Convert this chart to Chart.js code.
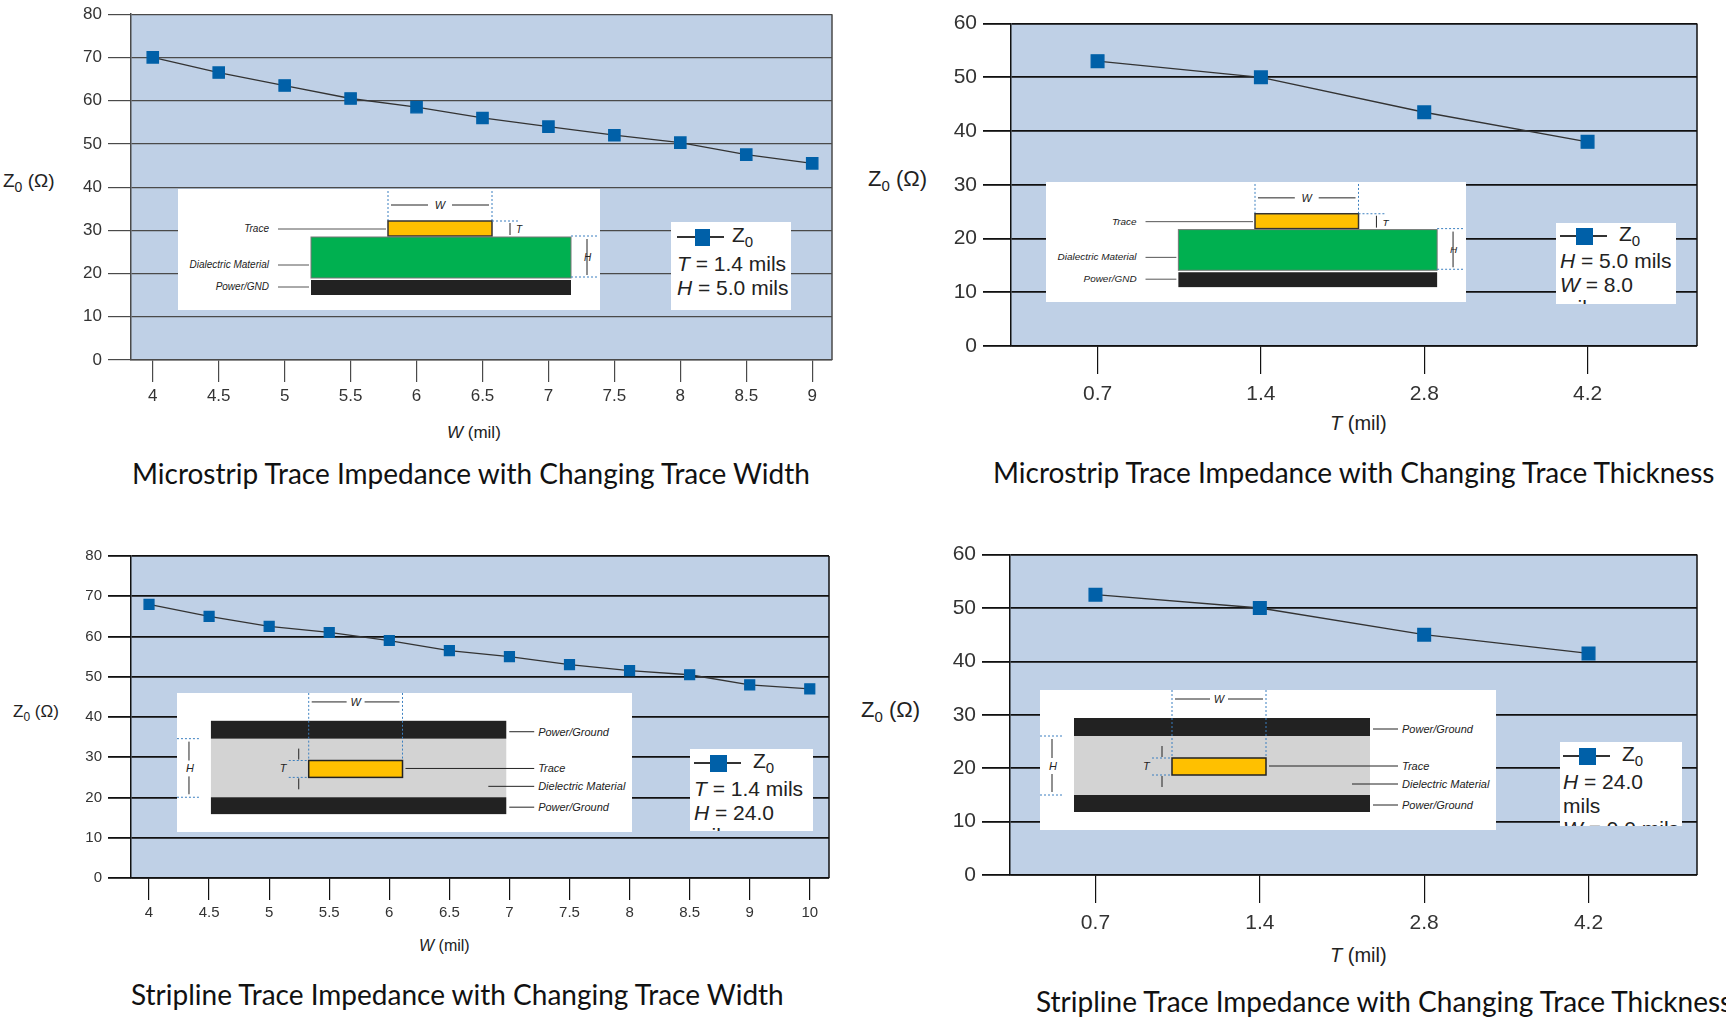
<!DOCTYPE html>
<html><head><meta charset="utf-8">
<script src="https://cdn.jsdelivr.net/npm/chart.js@4.4.1/dist/chart.umd.min.js"></script>
<style>
body{margin:0;background:#fff;width:1726px;height:1033px;position:relative;overflow:hidden;font-family:'Liberation Sans Narrow','Liberation Sans',sans-serif;}
.box{position:absolute}
.t{position:absolute;white-space:nowrap;color:#222}
.title{font-family:Lato,sans-serif;font-size:28px;color:#111}
.leg{position:absolute;background:#fff;color:#222;line-height:1.12}
svg.ins{position:absolute;font-family:'Liberation Sans Narrow','Liberation Sans',sans-serif}
</style></head><body>
<svg class="ins" id="ms" viewBox="0 0 422 121" preserveAspectRatio="none" width="422" height="121" style="left:178px;top:189px">
<rect x="0" y="0" width="422" height="121" fill="#fff"/>
<line x1="210" y1="2" x2="210" y2="32" stroke="#3a7fc0" stroke-dasharray="2,2"/>
<line x1="314" y1="2" x2="314" y2="32" stroke="#3a7fc0" stroke-dasharray="2,2"/>
<line x1="213" y1="16" x2="250" y2="16" stroke="#222"/><line x1="274" y1="16" x2="311" y2="16" stroke="#222"/>
<text x="262" y="20" font-size="11" font-style="italic" text-anchor="middle" fill="#222">W</text>
<rect x="210" y="32" width="104" height="15" fill="#ffc000" stroke="#333" stroke-width="1.5"/>
<rect x="133" y="48" width="260" height="41" fill="#00b050" stroke="#777"/>
<rect x="133" y="91" width="260" height="15" fill="#222"/>
<line x1="314" y1="32" x2="340" y2="32" stroke="#3a7fc0" stroke-dasharray="2,2"/>
<line x1="332" y1="34" x2="332" y2="46" stroke="#222"/><text x="338" y="44" font-size="10" font-style="italic" fill="#222">T</text>
<line x1="393" y1="47" x2="420" y2="47" stroke="#3a7fc0" stroke-dasharray="2,2"/><line x1="393" y1="88" x2="420" y2="88" stroke="#3a7fc0" stroke-dasharray="2,2"/>
<line x1="409" y1="50" x2="409" y2="86" stroke="#222"/><text x="406" y="72" font-size="10" font-style="italic" fill="#222">H</text>
<text x="91" y="43" font-size="10" font-style="italic" text-anchor="end" fill="#222">Trace</text><line x1="100" y1="40" x2="208" y2="40" stroke="#555"/>
<text x="91" y="79" font-size="10" font-style="italic" text-anchor="end" fill="#222">Dialectric Material</text><line x1="100" y1="76" x2="131" y2="76" stroke="#555"/>
<text x="91" y="101" font-size="10" font-style="italic" text-anchor="end" fill="#222">Power/GND</text><line x1="100" y1="98" x2="131" y2="98" stroke="#555"/>
</svg>
<svg class="ins" id="sl" viewBox="0 0 456 140" preserveAspectRatio="none" width="455" height="139" style="left:177px;top:693px">
<rect x="0" y="0" width="456" height="140" fill="#fff"/>
<rect x="34" y="46" width="296" height="59" fill="#d3d3d3"/>
<rect x="34" y="28" width="296" height="18" fill="#222"/>
<rect x="34" y="105" width="296" height="17" fill="#222"/>
<line x1="132" y1="0" x2="132" y2="68" stroke="#3a7fc0" stroke-dasharray="2,2"/><line x1="226" y1="0" x2="226" y2="68" stroke="#3a7fc0" stroke-dasharray="2,2"/>
<line x1="135" y1="9" x2="170" y2="9" stroke="#222"/><line x1="188" y1="9" x2="223" y2="9" stroke="#222"/>
<text x="179" y="13" font-size="11" font-style="italic" text-anchor="middle" fill="#222">W</text>
<rect x="132" y="68" width="94" height="17" fill="#ffc000" stroke="#222" stroke-width="1.5"/>
<line x1="112" y1="68" x2="132" y2="68" stroke="#3a7fc0" stroke-dasharray="2,2"/><line x1="112" y1="85" x2="132" y2="85" stroke="#3a7fc0" stroke-dasharray="2,2"/>
<line x1="122" y1="56" x2="122" y2="67" stroke="#222"/><line x1="122" y1="86" x2="122" y2="97" stroke="#222"/>
<text x="103" y="80" font-size="11" font-style="italic" fill="#222">T</text>
<line x1="0" y1="46" x2="24" y2="46" stroke="#3a7fc0" stroke-dasharray="2,2"/><line x1="0" y1="105" x2="24" y2="105" stroke="#3a7fc0" stroke-dasharray="2,2"/>
<line x1="12" y1="49" x2="12" y2="68" stroke="#222"/><line x1="12" y1="84" x2="12" y2="102" stroke="#222"/>
<text x="9" y="80" font-size="11" font-style="italic" fill="#222">H</text>
<line x1="333" y1="39" x2="358" y2="39" stroke="#222"/><text x="362" y="43" font-size="11" font-style="italic" fill="#222">Power/Ground</text>
<line x1="229" y1="76" x2="358" y2="76" stroke="#222"/><text x="362" y="80" font-size="11" font-style="italic" fill="#222">Trace</text>
<line x1="312" y1="94" x2="358" y2="94" stroke="#222"/><text x="362" y="98" font-size="11" font-style="italic" fill="#222">Dielectric Material</text>
<line x1="333" y1="115" x2="358" y2="115" stroke="#222"/><text x="362" y="119" font-size="11" font-style="italic" fill="#222">Power/Ground</text>
</svg>
<script>
// ---- data ----
const c1Labels = ['4','4.5','5','5.5','6','6.5','7','7.5','8','8.5','9'];
const c1Values = [70,66.5,63.5,60.5,58.5,56,54,52,50.3,47.5,45.5];
const c2Labels = ['0.7','1.4','2.8','4.2'];
const c2Values = [53,50,43.5,38];
const c3Labels = ['4','4.5','5','5.5','6','6.5','7','7.5','8','8.5','9','10'];
const c3Values = [68,65,62.5,61,59,56.5,55,53,51.5,50.5,48,47];
const c4Labels = ['0.7','1.4','2.8','4.2'];
const c4Values = [52.5,50,45,41.5];
const c1Y = {max:80, step:10};
const c2Y = {max:60, step:10};
const c3Y = {max:80, step:10};
const c4Y = {max:60, step:10};

const bgPlugin = {id:'bg',
  beforeDraw(ch){const a=ch.chartArea,c=ch.ctx;c.save();c.fillStyle='#bfd0e6';c.fillRect(a.left,a.top,a.right-a.left,a.bottom-a.top);c.restore();},
  beforeDatasetsDraw(ch){const a=ch.chartArea,c=ch.ctx;c.save();c.strokeStyle=ch.options.plugins.bg.col;c.lineWidth=1.5;
    c.beginPath();c.moveTo(a.right,a.top);c.lineTo(a.right,a.bottom);c.stroke();c.restore();}
};

function make(o){
  const d=document.createElement('div');d.className='box';
  const yw=o.yw, padT=12, padR=20, xh=o.xh;
  d.style.left=(o.L-yw)+'px'; d.style.top=(o.T-padT)+'px';
  d.style.width=(o.R-o.L+yw+padR)+'px'; d.style.height=(o.B-o.T+padT+xh)+'px';
  const cv=document.createElement('canvas');d.appendChild(cv);document.body.insertBefore(d,document.body.firstChild);
  new Chart(cv,{type:'line',
    data:{labels:o.labels.map((_,i)=>i),datasets:[{data:o.values.map((v,i)=>({x:i,y:v})),borderColor:'#333',borderWidth:1.3,
      pointStyle:'rect',pointRadius:o.pr,pointHoverRadius:o.pr,pointBackgroundColor:'#0060a8',pointBorderColor:'#0060a8',tension:0}]},
    plugins:[bgPlugin],
    options:{responsive:true,maintainAspectRatio:false,animation:false,
      layout:{padding:{top:padT,right:padR,left:0,bottom:0}},
      plugins:{legend:{display:false},tooltip:{enabled:false},bg:{col:o.gc}},
      scales:{
        x:{type:'linear',min:-o.offL,max:o.labels.length-1+o.offR,
          afterBuildTicks(s){s.ticks=o.labels.map((_,i)=>({value:i}));},
          afterFit(s){s.height=xh;},
          grid:{drawOnChartArea:false,drawTicks:true,tickLength:o.xt,color:o.gc,lineWidth:1.2},
          border:{color:o.gc,width:1.5},
          ticks:{callback:(v)=>o.labels[v],color:'#333',font:{size:o.fs,family:"'Liberation Sans Narrow','Liberation Sans'"},padding:o.xpad,maxRotation:0,autoSkip:false}},
        y:{min:0,max:o.y.max,afterFit(s){s.width=yw;},
          ticks:{stepSize:o.y.step,color:'#333',font:{size:o.fs,family:"'Liberation Sans Narrow','Liberation Sans'"},padding:6},
          grid:{color:o.gc,lineWidth:o.glw,tickLength:o.yt},
          border:{color:o.gc,width:1.5}}
      }}});
}
make({labels:c1Labels,values:c1Values,y:c1Y,L:131,R:832,T:10,B:360,yw:62,xh:50,offL:0.33,offR:0.3,xt:22,xpad:4,fs:17,pr:8,gc:'#4a4a4a',glw:1.2,yt:23});
make({labels:c2Labels,values:c2Values,y:c2Y,L:1011,R:1697,T:17,B:346,yw:62,xh:60,offL:0.53,offR:0.67,xt:28,xpad:8,fs:21,pr:9,gc:'#111',glw:1.8,yt:28});
make({labels:c3Labels,values:c3Values,y:c3Y,L:131,R:829,T:553,B:878,yw:62,xh:50,offL:0.3,offR:0.32,xt:22,xpad:4,fs:15,pr:7,gc:'#111',glw:1.8,yt:23});
make({labels:c4Labels,values:c4Values,y:c4Y,L:1010,R:1697,T:548,B:875,yw:62,xh:60,offL:0.52,offR:0.66,xt:28,xpad:8,fs:21,pr:9,gc:'#111',glw:1.8,yt:28});

// copies of the inset diagrams for the other two charts
function copy(id,l,t,w,h){const s=document.getElementById(id).cloneNode(true);s.removeAttribute('id');
  s.style.left=l+'px';s.style.top=t+'px';s.setAttribute('width',w);s.setAttribute('height',h);document.body.appendChild(s);}
copy('ms',1046,182,420,120);
copy('sl',1040,690,456,140);
</script>

<div class="t" style="left:3px;top:170px;font-size:19px">Z<sub style="font-size:14px">0</sub> (Ω)</div>
<div class="t" style="left:447px;top:423px;font-size:17px"><i>W</i> (mil)</div>
<div class="t title" style="left:132px;top:456px">Microstrip Trace Impedance with Changing Trace Width</div>

<div class="t" style="left:868px;top:166px;font-size:22px">Z<sub style="font-size:15px">0</sub> (Ω)</div>
<div class="t" style="left:1330px;top:412px;font-size:20px"><i>T</i> (mil)</div>
<div class="t title" style="left:993px;top:455px">Microstrip Trace Impedance with Changing Trace Thickness</div>

<div class="t" style="left:13px;top:702px;font-size:17px">Z<sub style="font-size:12px">0</sub> (Ω)</div>
<div class="t" style="left:419px;top:937px;font-size:16px"><i>W</i> (mil)</div>
<div class="t title" style="left:131px;top:977px">Stripline Trace Impedance with Changing Trace Width</div>

<div class="t" style="left:861px;top:697px;font-size:22px">Z<sub style="font-size:15px">0</sub> (Ω)</div>
<div class="t" style="left:1330px;top:944px;font-size:20px"><i>T</i> (mil)</div>
<div class="t title" style="left:1036px;top:984px">Stripline Trace Impedance with Changing Trace Thickness</div>

<div class="leg" style="left:671px;top:222px;width:120px;height:88px;font-size:21px;padding-left:6px;box-sizing:border-box">
 <div style="display:flex;align-items:center;height:30px"><span style="display:inline-block;width:18px;height:2px;background:#333"></span><span style="display:inline-block;width:15px;height:17px;background:#0060a8"></span><span style="display:inline-block;width:14px;height:2px;background:#333"></span><span style="margin-left:8px">Z<sub style="font-size:15px">0</sub></span></div>
 <div><i>T</i> = 1.4 mils</div><div><i>H</i> = 5.0 mils</div></div>
<div class="leg" style="left:1556px;top:223px;width:120px;height:81px;font-size:21px;padding-left:4px;box-sizing:border-box;overflow:hidden">
 <div style="display:flex;align-items:center;height:26px"><span style="display:inline-block;width:16px;height:2px;background:#333"></span><span style="display:inline-block;width:17px;height:17px;background:#0060a8"></span><span style="display:inline-block;width:14px;height:2px;background:#333"></span><span style="margin-left:12px">Z<sub style="font-size:15px">0</sub></span></div>
 <div><i>H</i> = 5.0 mils</div><div><i>W</i> = 8.0 mils</div></div>
<div class="leg" style="left:690px;top:749px;width:123px;height:82px;font-size:21px;padding-left:4px;box-sizing:border-box;overflow:hidden">
 <div style="display:flex;align-items:center;height:28px"><span style="display:inline-block;width:16px;height:2px;background:#333"></span><span style="display:inline-block;width:17px;height:17px;background:#0060a8"></span><span style="display:inline-block;width:14px;height:2px;background:#333"></span><span style="margin-left:12px">Z<sub style="font-size:15px">0</sub></span></div>
 <div><i>T</i> = 1.4 mils</div><div><i>H</i> = 24.0 mils</div></div>
<div class="leg" style="left:1560px;top:742px;width:122px;height:84px;font-size:21px;padding-left:3px;box-sizing:border-box;overflow:hidden">
 <div style="display:flex;align-items:center;height:28px"><span style="display:inline-block;width:16px;height:2px;background:#333"></span><span style="display:inline-block;width:17px;height:17px;background:#0060a8"></span><span style="display:inline-block;width:14px;height:2px;background:#333"></span><span style="margin-left:12px">Z<sub style="font-size:15px">0</sub></span></div>
 <div><i>H</i> = 24.0 mils</div><div><i>W</i> = 9.0 mils</div></div>
</body></html>
